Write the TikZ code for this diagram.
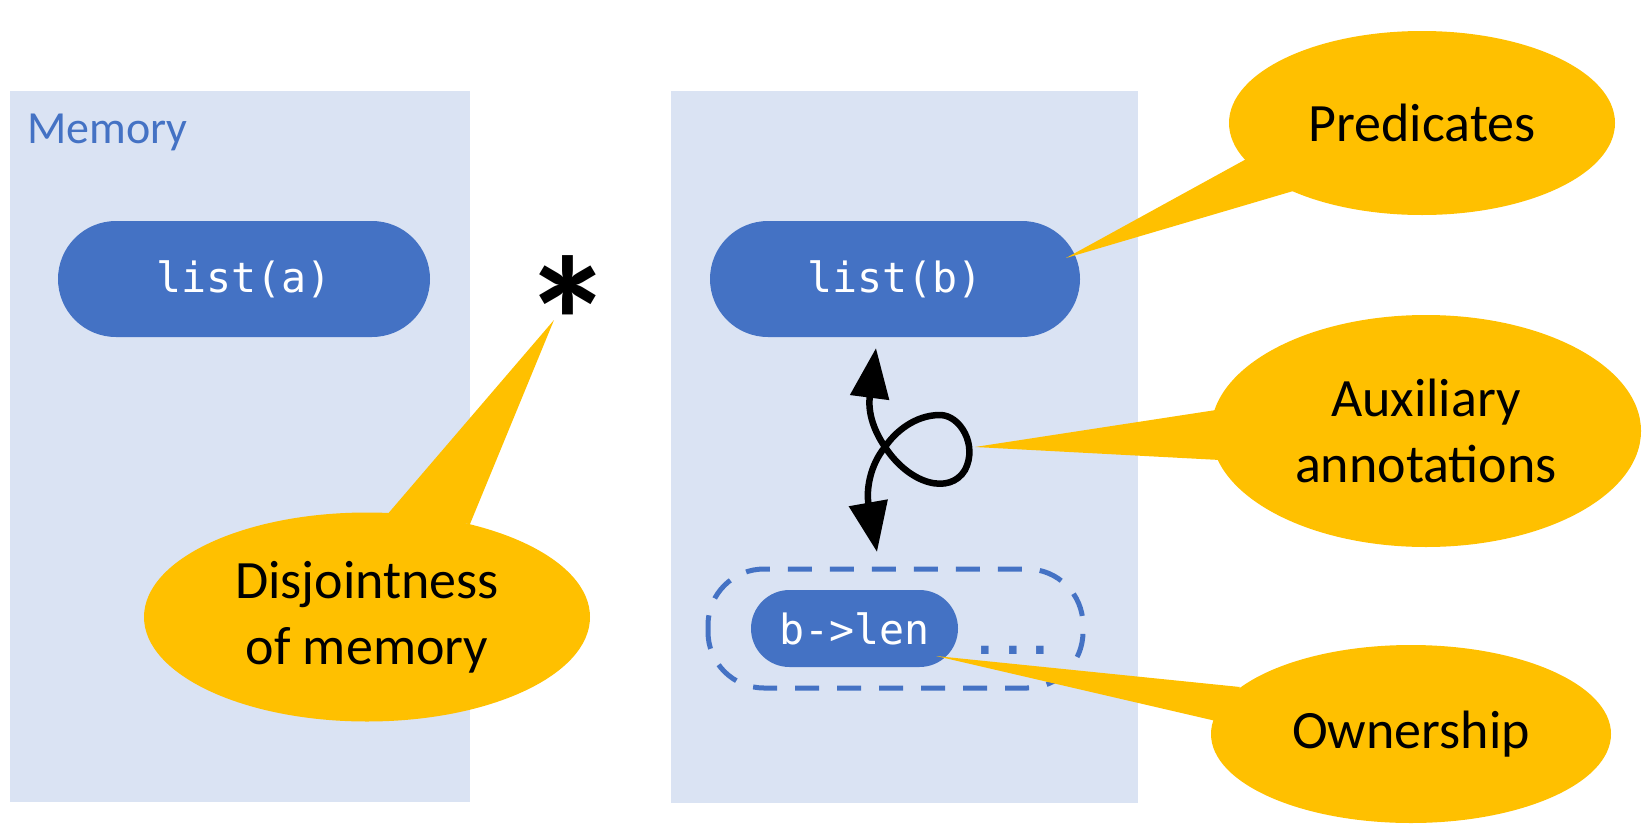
\documentclass[tikz,border=0pt]{standalone}
\usepackage{fontspec}
\setmainfont{Carlito}
\newfontfamily\codefont{DejaVu Sans Mono}
\usetikzlibrary{shapes.geometric,arrows.meta}
\definecolor{memfill}{HTML}{DAE3F3}
\definecolor{pillblue}{HTML}{4472C4}
\definecolor{calloutyel}{HTML}{FFC000}
\tikzset{
  memregion/.style={fill=memfill},
  pill/.style={fill=pillblue, text=white, inner sep=0pt,
    font=\codefont\fontsize{41.6}{50}\selectfont},
  callout/.style={ellipse, fill=calloutyel, inner sep=0pt, align=center,
    font=\fontsize{54}{66}\selectfont},
  pointer/.style={fill=calloutyel},
  ownbox/.style={draw=pillblue, line width=5pt, dash pattern=on 24pt off 18pt,
    rounded corners=56pt},
  loop/.style={line width=6.5pt,
    {Triangle[length=50pt,width=38pt]}-{Triangle[length=50pt,width=38pt]}}
}
\begin{document}
\begin{tikzpicture}[x=1pt,y=-1pt]
\useasboundingbox (0,0) rectangle (1644,825);

% memory regions
\fill[memregion] (10,91) rectangle (470,802);
\fill[memregion] (671,91) rectangle (1138,803);
\node[anchor=base west, text=pillblue, inner sep=0pt,
  font=\fontsize{46}{55}\selectfont] (memlabel) at (27,143) {Memory};

% predicate pills
\node[pill, minimum width=372pt, minimum height=116pt, rounded corners=58pt]
  (lista) at (244,279) {list(a)};
\node[pill, minimum width=370pt, minimum height=116pt, rounded corners=58pt]
  (listb) at (895,279) {list(b)};

% owned field
\draw[ownbox] (708,569) rectangle (1083,688);
\node[pill, minimum width=207pt, minimum height=77pt, rounded corners=38.5pt]
  (blen) at (854.5,628.5) {b->len};
\node[anchor=base, text=pillblue, inner sep=0pt,
  font=\codefont\bfseries\fontsize{46}{50}\selectfont] (dots) at (1013,654) {...};

% separating conjunction
\node[anchor=base, inner sep=0pt, font=\bfseries\fontsize{183}{183}\selectfont]
  (star) at (568,386) {*};

% auxiliary annotation loop
\coordinate (ltop) at (876,348);
\coordinate (lx) at (885,447);
\coordinate (lbot) at (877,552);
\draw[loop] (ltop) .. controls (868,410) and (872,428) .. (lx)
  .. controls (910,485) and (950,495) .. (965,470)
  .. controls (978,445) and (960,415) .. (940,415)
  .. controls (915,415) and (895,432) .. (lx)
  .. controls (870,465) and (866,490) .. (lbot);

% callouts
\node[callout, minimum width=386pt, minimum height=184pt] (pred) at (1422,123) {Predicates};
\coordinate (predtip) at (1066,258);
\fill[pointer] (predtip) -- (1250,157) -- (1300,189) -- cycle;

\node[callout, minimum width=430pt, minimum height=232pt] (aux) at (1426,431)
  {Auxiliary\\annotations};
\coordinate (auxtip) at (975,447);
\fill[pointer] (auxtip) -- (1216,410) -- (1220,460) -- cycle;

\node[callout, minimum width=400pt, minimum height=178pt] (own) at (1411,734) {Ownership};
\coordinate (owntip) at (936,656);
\fill[pointer] (owntip) -- (1240,687) -- (1216,721) -- cycle;

\node[callout, minimum width=446pt, minimum height=209pt] (disj) at (367,617)
  {Disjointness\\of memory};
\coordinate (disjtip) at (554,320);
\fill[pointer] (disjtip) -- (386,516) -- (470,524) -- cycle;
\end{tikzpicture}
\end{document}
